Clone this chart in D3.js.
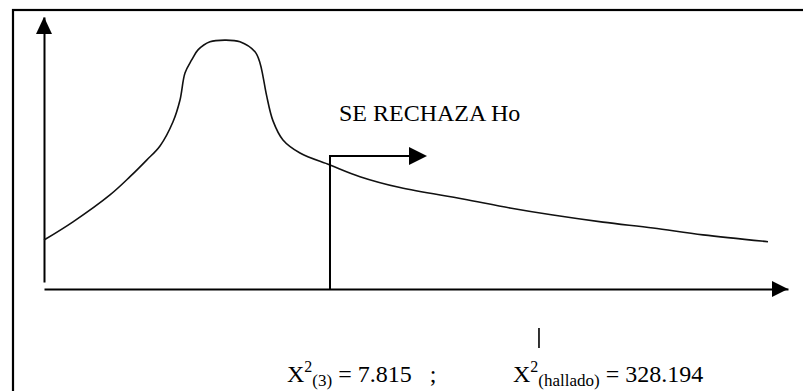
<!DOCTYPE html>
<html>
<head>
<meta charset="utf-8">
<script src="https://cdn.jsdelivr.net/npm/d3@7"></script>
<style>
  html, body { margin: 0; padding: 0; background: #fff; }
  svg { display: block; }
</style>
</head>
<body>
<svg id="chart" width="803" height="391"></svg>
<script>
// Chi-square density sketch (schematic units)
const curveX = [0, 0.39, 0.887, 1.156, 1.38, 1.559, 1.734, 1.828, 1.895, 1.985, 2.07,
  2.231, 2.433, 2.634, 2.836, 2.903, 2.944, 2.993, 3.078, 3.212, 3.441, 3.844, 4.247,
  4.785, 5.632, 6.263, 6.841, 7.513, 8.185, 8.858, 9.731];
const curveY = [0.180, 0.247, 0.346, 0.413, 0.474, 0.526, 0.615, 0.695, 0.794, 0.842, 0.879,
  0.909, 0.915, 0.909, 0.872, 0.831, 0.781, 0.710, 0.618, 0.548, 0.500, 0.456, 0.413,
  0.373, 0.331, 0.298, 0.272, 0.246, 0.224, 0.199, 0.174];

// Rejection boundary and the observed statistic marker
const criticalX = 3.844;
const rejectArrowY = 0.489;
const rejectArrowEndX = 5.148;
const observedX = 6.653;

const rejectLabel = "SE RECHAZA Ho";
const criticalLabel = { base: "X", sup: "2", sub: "(3)", rest: " = 7.815   ;" };
const observedLabel = { base: "X", sup: "2", sub: "(hallado)", rest: " = 328.194" };

const SERIF = '"Liberation Serif"';

const svg = d3.select("#chart");

const x = d3.scaleLinear().domain([0, 10]).range([44, 788]);
const y = d3.scaleLinear().domain([0, 1]).range([289, 17]);

// Page frame
svg.append("rect")
  .attr("x", 13).attr("y", 10)
  .attr("width", 820).attr("height", 420)
  .attr("fill", "none").attr("stroke", "#000").attr("stroke-width", 2.2);

// X axis (line only) with arrowhead
svg.append("g")
  .attr("transform", `translate(0,${y(0)})`)
  .call(d3.axisBottom(x).tickValues([]).tickSizeOuter(0))
  .call(g => g.select(".domain").attr("stroke-width", 2));

svg.append("path")
  .attr("d", `M${x(10)},${y(0)} L${x(10) - 16},${y(0) - 8} L${x(10) - 16},${y(0) + 8} Z`)
  .attr("fill", "#000");

// Y axis (line only) with arrowhead
const yAxisScale = y.copy().domain([0.026, 1]).range([y(0.026), y(1)]);
svg.append("g")
  .attr("transform", `translate(${x(0)},0)`)
  .call(d3.axisLeft(yAxisScale).tickValues([]).tickSizeOuter(0))
  .call(g => g.select(".domain").attr("stroke-width", 2));

svg.append("path")
  .attr("d", `M${x(0)},${y(1)} L${x(0) - 8},${y(1) + 17} L${x(0) + 8},${y(1) + 17} Z`)
  .attr("fill", "#000");

// Density curve
const pts = curveX.map((v, i) => [v, curveY[i]]);
svg.append("path")
  .datum(pts)
  .attr("fill", "none")
  .attr("stroke", "#111")
  .attr("stroke-width", 1.6)
  .attr("d", d3.line().x(d => x(d[0])).y(d => y(d[1])).curve(d3.curveCatmullRom.alpha(0.5)));

// Critical value boundary and rejection-direction arrow
svg.append("path")
  .attr("d", `M${x(criticalX)},${y(0)} V${y(rejectArrowY)} H${x(rejectArrowEndX) - 17}`)
  .attr("fill", "none").attr("stroke", "#000").attr("stroke-width", 2);

svg.append("path")
  .attr("d", `M${x(rejectArrowEndX)},${y(rejectArrowY)} L${x(rejectArrowEndX) - 18},${y(rejectArrowY) - 9} L${x(rejectArrowEndX) - 18},${y(rejectArrowY) + 9} Z`)
  .attr("fill", "#000");

svg.append("text")
  .attr("x", 339).attr("y", 121)
  .style("font-family", SERIF)
  .style("font-size", "24px")
  .attr("fill", "#000")
  .text(rejectLabel);

// Observed statistic marker
svg.append("line")
  .attr("x1", x(observedX)).attr("x2", x(observedX))
  .attr("y1", 328).attr("y2", 348)
  .attr("stroke", "#000").attr("stroke-width", 1.6);

// Formula labels
function formula(lbl, px, py) {
  const t = svg.append("text")
    .attr("x", px).attr("y", py)
    .style("font-family", SERIF)
    .style("font-size", "24px")
    .style("white-space", "pre")
    .attr("fill", "#000");
  t.append("tspan").text(lbl.base);
  t.append("tspan").style("font-size", "16px").attr("dy", -10).text(lbl.sup);
  t.append("tspan").style("font-size", "17px").attr("dy", 14).text(lbl.sub);
  t.append("tspan").attr("dy", -4).text(lbl.rest);
}
formula(criticalLabel, 287, 382);
formula(observedLabel, 513, 382);
</script>
</body>
</html>
